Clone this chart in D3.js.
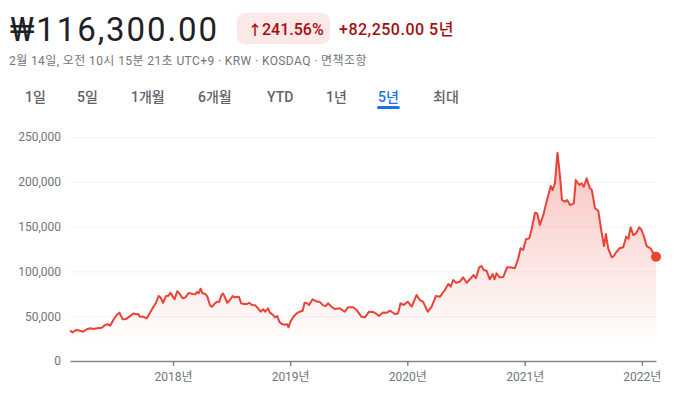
<!DOCTYPE html>
<html><head><meta charset="utf-8">
<script src="https://cdn.jsdelivr.net/npm/d3@7"></script>
<style>
html,body{margin:0;padding:0;background:#fff;}
svg{display:block;font-family:Roboto,"Noto Sans CJK KR",sans-serif;}
</style></head>
<body>
<script>
// ---- data ----
const dates = [
"2017-02-14","2017-02-22","2017-03-05","2017-03-15","2017-03-27","2017-04-09","2017-04-19","2017-04-28","2017-05-10","2017-05-24",
"2017-06-03","2017-06-10","2017-06-19","2017-06-29","2017-07-09","2017-07-18","2017-07-28","2017-08-07","2017-08-18","2017-08-30",
"2017-09-08","2017-09-15","2017-09-20","2017-09-30","2017-10-11","2017-10-21","2017-11-01","2017-11-09","2017-11-17","2017-11-23",
"2017-12-01","2017-12-10","2017-12-17","2017-12-24",
"2018-01-02","2018-01-06","2018-01-14","2018-01-22","2018-01-31","2018-02-08","2018-02-19","2018-03-03","2018-03-11","2018-03-17",
"2018-03-22","2018-03-28","2018-04-03","2018-04-11","2018-04-18","2018-04-26","2018-05-02","2018-05-12","2018-05-19","2018-05-25",
"2018-06-01","2018-06-06","2018-06-13","2018-06-19","2018-06-27","2018-07-06","2018-07-12","2018-07-20","2018-07-26","2018-08-01",
"2018-08-10","2018-08-20","2018-08-26","2018-09-04","2018-09-14","2018-09-23","2018-10-01","2018-10-09","2018-10-15","2018-10-24",
"2018-10-30","2018-11-09","2018-11-15","2018-11-22","2018-11-28","2018-12-06","2018-12-16","2018-12-23","2018-12-27",
"2019-01-02","2019-01-10","2019-01-21","2019-01-31","2019-02-09","2019-02-15","2019-02-21","2019-03-01","2019-03-12","2019-03-18",
"2019-03-26","2019-04-03","2019-04-14","2019-04-22","2019-04-29","2019-05-10","2019-05-20","2019-06-05","2019-06-20","2019-07-01",
"2019-07-16","2019-07-27","2019-08-11","2019-08-22","2019-09-04","2019-09-16","2019-09-27","2019-10-05","2019-10-16","2019-10-28",
"2019-11-09","2019-11-23","2019-12-03","2019-12-11","2019-12-21",
"2020-01-02","2020-01-15","2020-01-30","2020-02-09","2020-02-19","2020-03-05","2020-03-17","2020-03-30","2020-04-12","2020-04-27",
"2020-05-08","2020-05-15","2020-05-23","2020-06-01","2020-06-13","2020-06-23","2020-07-04","2020-07-14","2020-07-26","2020-08-02",
"2020-08-12","2020-08-19","2020-08-26","2020-09-04","2020-09-14","2020-09-23","2020-09-29","2020-10-05","2020-10-15","2020-10-26",
"2020-11-07","2020-11-21","2020-12-01","2020-12-12","2020-12-19","2020-12-27",
"2021-01-05","2021-01-15","2021-01-22","2021-02-02","2021-02-09","2021-02-17","2021-02-28","2021-03-10","2021-03-23","2021-03-29",
"2021-04-05","2021-04-13","2021-04-21","2021-04-27","2021-05-06","2021-05-13","2021-05-22","2021-06-03","2021-06-09","2021-06-20",
"2021-06-27","2021-07-04","2021-07-13","2021-07-23","2021-07-29","2021-08-08","2021-08-18","2021-08-29","2021-09-05","2021-09-11",
"2021-09-18","2021-09-29","2021-10-06","2021-10-12","2021-10-23","2021-11-04","2021-11-13","2021-11-20","2021-11-27","2021-12-05",
"2021-12-14","2021-12-24","2021-12-31",
"2022-01-07","2022-01-16","2022-01-28","2022-02-03","2022-02-14"
];
const prices = [
34050,32000,34600,34000,32700,35700,36500,35800,36500,37200,
40000,41000,39400,45800,51000,54000,46500,46800,49500,53000,
52200,52500,49400,49500,47600,53500,60600,65000,72500,71000,
65000,72500,72800,76000,
71000,69000,77800,74800,70000,70800,76000,74800,74500,77000,
75500,80700,75500,75000,71800,62500,60600,64400,66200,66000,
73700,75500,70000,65000,68000,72500,71000,71800,71500,64400,
63600,63600,65000,62500,62300,58800,55000,57700,55000,58800,
54000,51300,48800,50200,43900,41300,40500,41000,37600,
43900,48800,53200,55000,56100,65000,64800,62500,68900,67500,
66200,66000,62100,61400,64400,60600,58000,58800,55000,60000,
60000,57000,49500,48800,55000,54700,52500,50200,54000,53800,
56100,52500,53000,64400,62500,
66200,60600,73700,68000,66200,55000,60600,72500,71800,79200,
86000,83000,90400,87400,88500,93400,87400,91200,96000,92300,
104600,106000,101600,100800,91200,97000,91200,97900,93400,93800,
104600,104400,103500,114600,125800,123900,
135800,136900,146200,165500,164800,151800,163000,177800,195300,190800,
198300,232500,205700,179700,177800,179700,174000,176000,202000,196400,
198300,194500,203900,192700,190800,170400,167700,142500,128300,141700,
125800,115700,117200,120900,125800,126900,138700,136500,149200,140600,
142500,149200,146200,
139500,128300,125800,122000,116300
];
const yTicks = [0, 50000, 100000, 150000, 200000, 250000];
const xTickYears = [2018, 2019, 2020, 2021, 2022];
const tabs = ["1일","5일","1개월","6개월","YTD","1년","5년","최대"];
const activeTab = "5년";
const priceText = "₩116,300.00";
const changePct = "241.56%";
const changeAbs = "+82,250.00 5년";
const subtitle = "2월 14일, 오전 10시 15분 21초 UTC+9 · KRW · KOSDAQ · 면책조항";

// ---- drawing ----
const W = 679, H = 393;
const parse = d3.timeParse("%Y-%m-%d");
const data = dates.map((d, i) => ({date: parse(d), value: prices[i]}));

const svg = d3.select("body").append("svg").attr("width", W).attr("height", H);

// header
svg.append("text").attr("x", 10).attr("y", 41)
  .style("font-size", "33px").style("letter-spacing", "1.9px").style("fill", "#202124")
  .text(priceText);

const badge = svg.append("g");
badge.append("rect").attr("x", 237).attr("y", 13).attr("width", 93).attr("height", 31).attr("rx", 8)
  .style("fill", "#fce8e6");
const bt = badge.append("text").attr("x", 248).attr("y", 34.5).style("font-size", "16px").style("fill", "#a50e0e")
  .style("font-weight", 500);
bt.append("tspan").style("font-size", "14px").style("font-weight", 700).text("↑");
bt.append("tspan").text(changePct);
svg.append("text").attr("x", 339).attr("y", 34.5).style("font-size", "16px").style("letter-spacing", "0.5px")
  .style("fill", "#a50e0e").style("font-weight", 500)
  .text(changeAbs);

svg.append("text").attr("x", 9).attr("y", 65).style("font-size", "12px").style("letter-spacing", "0.4px")
  .style("fill", "#70757a")
  .text(subtitle);

const tabX = [25, 77, 131, 198, 267, 326, 378, 433];
tabs.forEach((t, i) => {
  const tx = svg.append("text").attr("x", tabX[i]).attr("y", 102)
    .style("font-size", "14px").style("font-weight", 500)
    .style("fill", t === activeTab ? "#1a73e8" : "#5f6368").text(t);
  if (t === activeTab) {
    const bb = tx.node().getBBox();
    svg.append("rect").attr("x", bb.x - 1).attr("y", 106).attr("width", bb.width + 2).attr("height", 3)
      .attr("rx", 1.5).style("fill", "#1a73e8");
  }
});

// scales
const x = d3.scaleTime().domain([data[0].date, data[data.length - 1].date]).range([70, 656]);
const y = d3.scaleLinear().domain([0, 250000]).range([361, 137]);

// gridlines
svg.append("g").selectAll("line").data(yTicks.filter(v => v > 0)).join("line")
  .attr("x1", 70).attr("x2", 656).attr("y1", d => y(d) + 0.5).attr("y2", d => y(d) + 0.5)
  .style("stroke", "#f1f3f4").style("stroke-width", 1);

// gradient
const defs = svg.append("defs");
const grad = defs.append("linearGradient").attr("id", "fillGrad")
  .attr("gradientUnits", "userSpaceOnUse").attr("x1", 0).attr("x2", 0)
  .attr("y1", y(232500)).attr("y2", y(20000));
grad.append("stop").attr("offset", "0%").attr("stop-color", "#ea4335").attr("stop-opacity", 0.32);
grad.append("stop").attr("offset", "100%").attr("stop-color", "#ea4335").attr("stop-opacity", 0);

const area = d3.area().x(d => x(d.date)).y0(y(0)).y1(d => y(d.value)).curve(d3.curveLinear);
svg.append("path").datum(data).attr("d", area).style("fill", "url(#fillGrad)");

const line = d3.line().x(d => x(d.date)).y(d => y(d.value)).curve(d3.curveLinear);
svg.append("path").datum(data).attr("d", line)
  .style("fill", "none").style("stroke", "#ea4335").style("stroke-width", 2)
  .style("stroke-linejoin", "round");

const last = data[data.length - 1];
svg.append("circle").attr("cx", x(last.date)).attr("cy", y(last.value)).attr("r", 5)
  .style("fill", "#ea4335");

// y axis labels
const yAxis = d3.axisLeft(y).tickValues(yTicks).tickFormat(d3.format(",")).tickSize(0).tickPadding(9);
const gy = svg.append("g").attr("transform", "translate(70,0)").call(yAxis);
gy.select(".domain").remove();
gy.selectAll("text").style("font-size", "12px").style("fill", "#70757a")
  .style("font-family", "Roboto,'Noto Sans CJK KR',sans-serif");

// x axis
const xAxis = d3.axisBottom(x).tickValues(xTickYears.map(yr => new Date(yr, 0, 1)))
  .tickFormat(d => d.getFullYear() + "년").tickSize(5).tickPadding(6).tickSizeOuter(0);
const gx = svg.append("g").attr("transform", "translate(0,361)").call(xAxis);
gx.select(".domain").style("stroke", "#80868b").style("stroke-width", 1.5);
gx.selectAll(".tick line").style("stroke", "#80868b").style("stroke-width", 1.5);
gx.selectAll("text").style("font-size", "12px").style("fill", "#70757a")
  .style("font-family", "Roboto,'Noto Sans CJK KR',sans-serif");
</script>
</body></html>
